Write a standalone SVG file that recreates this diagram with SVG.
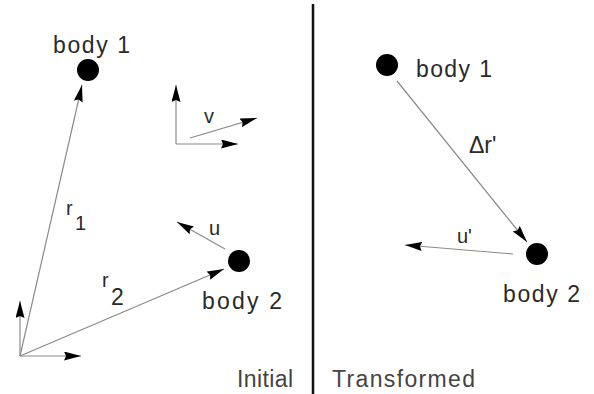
<svg xmlns="http://www.w3.org/2000/svg" width="594" height="394" viewBox="0 0 594 394">
<style>
text{font-family:"Liberation Sans",Arial,sans-serif;fill:#2a2a2a;}
.lbl{font-size:23px;}
.sm{font-size:20px;}
.cap{font-size:23px;fill:#444;}
.c{stroke:#8a8a8a;stroke-width:1.2;fill:none;marker-end:url(#ah);}
.dot{fill:#000;}
</style>
<defs>
<marker id="ah" markerUnits="userSpaceOnUse" markerWidth="18" markerHeight="10" refX="17" refY="4.5" orient="auto">
<path d="M0,0 L17,4.5 L0,9 L2,4.5 Z" fill="#000"/>
</marker>
</defs>
<rect width="594" height="394" fill="#fff"/>
<line x1="313" y1="4" x2="313" y2="394" stroke="#111" stroke-width="2.5"/>
<g id="connectors">
<line class="c" x1="20" y1="356" x2="82" y2="85"/>
<line class="c" x1="20" y1="356" x2="224" y2="269"/>
<line class="c" x1="20" y1="356" x2="20" y2="301"/>
<line class="c" x1="20" y1="356" x2="81" y2="356"/>
<line class="c" x1="176" y1="144" x2="176" y2="85"/>
<line class="c" x1="176" y1="144" x2="238" y2="144"/>
<line class="c" x1="190" y1="138" x2="257" y2="118"/>
<line class="c" x1="225" y1="249" x2="177" y2="222"/>
<line class="c" x1="397" y1="81" x2="527" y2="242"/>
<line class="c" x1="513" y1="254" x2="405" y2="245"/>
<text class="sm" x="66" y="215">r</text>
<text class="sm" x="75" y="230">1</text>
<text class="sm" x="102" y="287">r</text>
<text class="lbl" x="111" y="305">2</text>
<text class="sm" x="204" y="123">v</text>
<text class="sm" x="209" y="235">u</text>
<text class="sm" x="457" y="243">u'</text>
<text class="lbl" x="469" y="153">Δr'</text>
</g>
<g id="body1-initial">
<circle class="dot" cx="88" cy="70" r="11"/>
<text class="lbl" x="53" y="53" textLength="77" lengthAdjust="spacing">body 1</text>
</g>
<g id="body2-initial">
<circle class="dot" cx="239" cy="261" r="11"/>
<text class="lbl" x="202" y="309" textLength="80" lengthAdjust="spacing">body 2</text>
</g>
<g id="body1-transformed">
<circle class="dot" cx="387" cy="65" r="11"/>
<text class="lbl" x="416" y="77" textLength="76" lengthAdjust="spacing">body 1</text>
</g>
<g id="body2-transformed">
<circle class="dot" cx="537" cy="254" r="11"/>
<text class="lbl" x="503" y="302" textLength="77" lengthAdjust="spacing">body 2</text>
</g>
<text class="cap" x="237" y="387" textLength="56" lengthAdjust="spacing">Initial</text>
<text class="cap" x="332" y="387" textLength="143" lengthAdjust="spacing">Transformed</text>
</svg>
